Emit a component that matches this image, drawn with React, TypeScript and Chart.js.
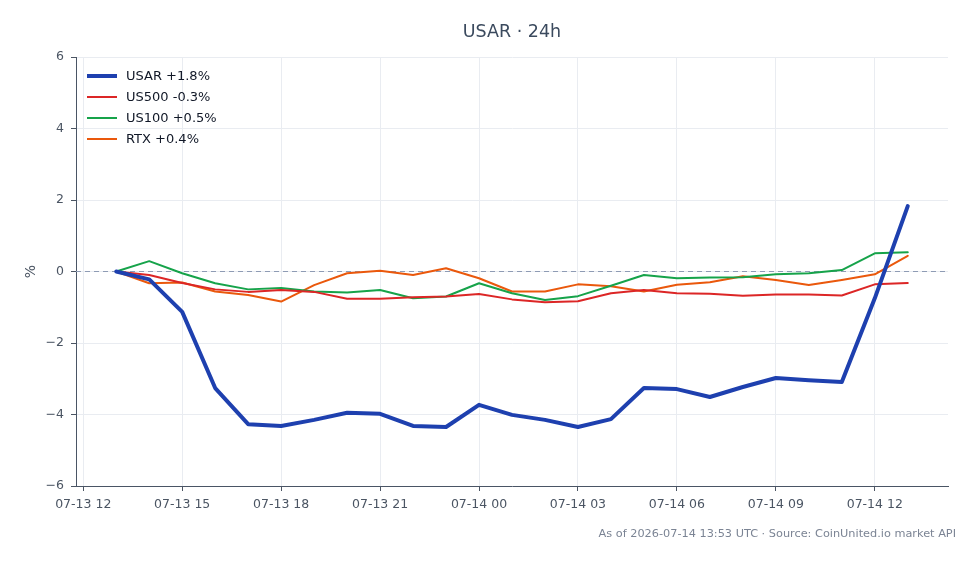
import React, { useEffect, useRef } from 'react';
import { Chart, registerables } from 'chart.js';

Chart.register(...registerables);

// Hours since 2026-07-13 00:00 UTC (hourly samples)
const hours = [13, 14, 15, 16, 17, 18, 19, 20, 21, 22, 23, 24, 25, 26, 27, 28, 29, 30, 31, 32, 33, 34, 35, 36, 37];
const tickHours = [12, 15, 18, 21, 24, 27, 30, 33, 36];
const yTicks = [-6, -4, -2, 0, 2, 4, 6];

const usar = [0, -0.22, -1.13, -3.26, -4.27, -4.32, -4.15, -3.95, -3.98, -4.32, -4.35, -3.73, -4.01, -4.15, -4.35, -4.13, -3.26, -3.29, -3.51, -3.23, -2.98, -3.04, -3.09, -0.75, 1.83];
const us500 = [0, -0.1, -0.32, -0.5, -0.57, -0.52, -0.57, -0.76, -0.76, -0.72, -0.7, -0.63, -0.78, -0.86, -0.83, -0.61, -0.52, -0.61, -0.62, -0.68, -0.64, -0.64, -0.67, -0.36, -0.32];
const us100 = [0, 0.29, -0.05, -0.33, -0.5, -0.46, -0.56, -0.59, -0.52, -0.75, -0.7, -0.33, -0.61, -0.8, -0.69, -0.4, -0.1, -0.19, -0.17, -0.16, -0.08, -0.05, 0.04, 0.51, 0.54];
const rtx = [0, -0.33, -0.31, -0.56, -0.66, -0.84, -0.38, -0.05, 0.02, -0.1, 0.09, -0.19, -0.56, -0.56, -0.36, -0.41, -0.56, -0.37, -0.3, -0.13, -0.24, -0.38, -0.24, -0.08, 0.44];

const seriesLabels = ['USAR +1.8%', 'US500 -0.3%', 'US100 +0.5%', 'RTX +0.4%'];
const seriesColors = ['#1e40af', '#dc2626', '#16a34a', '#ea580c'];
const seriesWidths = [4, 2, 2, 2];

const titleText = 'USAR · 24h';
const footerText = 'As of 2026-07-14 13:53 UTC · Source: CoinUnited.io market API';
const FONT = '"DejaVu Sans", sans-serif';

function fmtHour(h: number): string {
  const day = h >= 24 ? '07-14' : '07-13';
  const hh = ((h % 24) + 24) % 24;
  return `${day} ${String(hh).padStart(2, '0')}`;
}

export default function App() {
  const ref = useRef<HTMLCanvasElement | null>(null);

  useEffect(() => {
    if (!ref.current) return;
    const all = [usar, us500, us100, rtx];
    const datasets = all.map((vals, i) => ({
      label: seriesLabels[i],
      data: vals.map((v, j) => ({ x: hours[j], y: v })),
      borderColor: seriesColors[i],
      backgroundColor: seriesColors[i],
      borderWidth: seriesWidths[i],
      pointRadius: 0,
      tension: 0,
      fill: false,
      borderJoinStyle: 'round' as const,
      borderCapStyle: 'round' as const,
    }));

    const overlay = {
      id: 'overlay',
      beforeDatasetsDraw(chart: any) {
        const { ctx, chartArea, scales } = chart;
        const y0 = scales.y.getPixelForValue(0);
        ctx.save();
        ctx.strokeStyle = '#8e9bb4';
        ctx.lineWidth = 1;
        ctx.setLineDash([5, 4]);
        ctx.beginPath();
        ctx.moveTo(chartArea.left, y0);
        ctx.lineTo(chartArea.right, y0);
        ctx.stroke();
        ctx.restore();
      },
      afterDraw(chart: any) {
        const { ctx, chartArea } = chart;
        ctx.save();
        // title
        ctx.fillStyle = '#3b4a5e';
        ctx.font = `17.5px ${FONT}`;
        ctx.textAlign = 'center';
        ctx.textBaseline = 'middle';
        ctx.fillText(titleText, (chartArea.left + chartArea.right) / 2, 32.5);
        // y axis title
        ctx.save();
        ctx.translate(31, (chartArea.top + chartArea.bottom) / 2);
        ctx.rotate(-Math.PI / 2);
        ctx.fillStyle = '#4b5563';
        ctx.font = `14px ${FONT}`;
        ctx.fillText('%', 0, 0);
        ctx.restore();
        // legend
        chart.data.datasets.forEach((ds: any, i: number) => {
          const y = 76 + i * 21;
          ctx.strokeStyle = ds.borderColor;
          ctx.lineWidth = ds.borderWidth;
          ctx.beginPath();
          ctx.moveTo(87, y);
          ctx.lineTo(117, y);
          ctx.stroke();
          ctx.fillStyle = '#111827';
          ctx.font = `13px ${FONT}`;
          ctx.textAlign = 'left';
          ctx.textBaseline = 'middle';
          ctx.fillText(ds.label, 126, y + 0.5);
        });
        // footer
        ctx.fillStyle = '#7b8494';
        ctx.font = `11.3px ${FONT}`;
        ctx.textAlign = 'right';
        ctx.textBaseline = 'middle';
        ctx.fillText(footerText, 956, 534);
        ctx.restore();
      },
    };

    const chart = new Chart(ref.current, {
      type: 'line',
      data: { datasets },
      options: {
        animation: false,
        responsive: false,
        maintainAspectRatio: false,
        layout: { padding: { left: 0, top: 57, right: 32, bottom: 38 } },
        plugins: { legend: { display: false }, title: { display: false }, tooltip: { enabled: false } },
        scales: {
          x: {
            type: 'linear',
            min: 11.78,
            max: 38.22,
            afterBuildTicks: (s: any) => { s.ticks = tickHours.map((v) => ({ value: v })); },
            afterFit: (s: any) => { s.height = 40; },
            ticks: {
              callback: (v: any) => fmtHour(Number(v)),
              color: '#4b5563',
              font: { family: FONT, size: 12.5 },
              padding: 6,
              maxRotation: 0,
              autoSkip: false,
            },
            grid: { color: '#e9ecf1', lineWidth: 1, tickColor: '#4b5563', tickLength: 5 },
            border: { color: '#4a5565', width: 1 },
          },
          y: {
            type: 'linear',
            min: -6,
            max: 6,
            afterBuildTicks: (s: any) => { s.ticks = yTicks.map((v) => ({ value: v })); },
            afterFit: (s: any) => { s.width = 76; },
            ticks: {
              callback: (v: any) => String(v).replace('-', '\u2212'),
              color: '#4b5563',
              font: { family: FONT, size: 12.5 },
              padding: 7,
            },
            grid: { color: '#e9ecf1', lineWidth: 1, tickColor: '#4b5563', tickLength: 5 },
            border: { color: '#4a5565', width: 1 },
          },
        },
      },
      plugins: [overlay],
    });
    return () => chart.destroy();
  }, []);

  return (
    <div style={{ position: 'fixed', left: 0, top: 0, width: 980, height: 564, background: '#fff' }}>
      <canvas ref={ref} width={980} height={564} style={{ width: 980, height: 564, display: 'block' }} />
    </div>
  );
}
